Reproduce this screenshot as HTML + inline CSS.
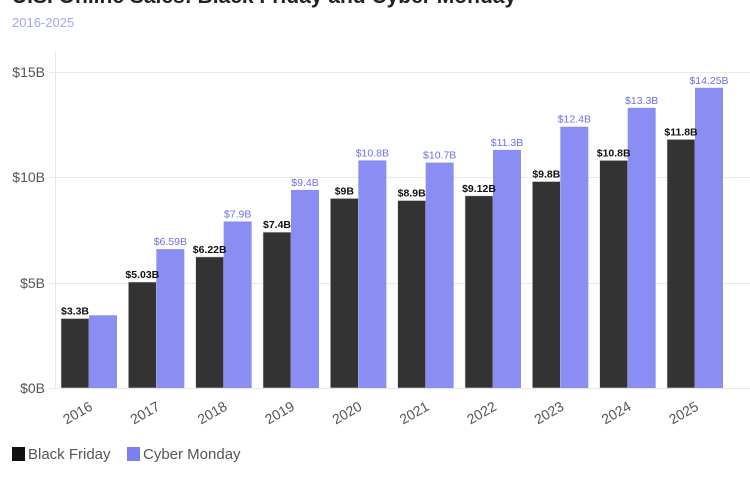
<!DOCTYPE html>
<html><head><style>body{margin:0;background:#fff}svg{display:block}</style></head><body>
<svg width="750" height="480" xmlns="http://www.w3.org/2000/svg" font-family="Liberation Sans, sans-serif">
<text x="12" y="3" font-size="21" font-weight="bold" fill="#222">U.S. Online Sales: Black Friday and Cyber Monday</text>
<text x="12" y="27" font-size="13" fill="#a3a6f2">2016-2025</text>
<g stroke="#e8e8e8" stroke-width="1">
<line x1="55" y1="72.5" x2="750" y2="72.5"/><line x1="55" y1="177.5" x2="750" y2="177.5"/><line x1="55" y1="283.5" x2="750" y2="283.5"/><line x1="49" y1="388.5" x2="750" y2="388.5"/>
<line x1="49" y1="72.5" x2="55" y2="72.5"/><line x1="49" y1="177.5" x2="55" y2="177.5"/><line x1="49" y1="283.5" x2="55" y2="283.5"/>
<line x1="55.5" y1="51" x2="55.5" y2="388"/>
</g>
<g font-size="14" fill="#555" text-anchor="end">
<text x="45" y="77">$15B</text><text x="45" y="182">$10B</text><text x="45" y="288">$5B</text><text x="45" y="393">$0B</text>
</g>
<g fill="#333" stroke="#ddd" stroke-width="0.6">
<rect x="61" y="318.5" width="28" height="69.5"/>
<rect x="128.33" y="282" width="28" height="106"/>
<rect x="195.67" y="256.9" width="28" height="131.1"/>
<rect x="263" y="232.1" width="28" height="155.9"/>
<rect x="330.33" y="198.4" width="28" height="189.6"/>
<rect x="397.67" y="200.5" width="28" height="187.5"/>
<rect x="465" y="195.8" width="28" height="192.2"/>
<rect x="532.33" y="181.5" width="28" height="206.5"/>
<rect x="599.67" y="160.4" width="28" height="227.6"/>
<rect x="667" y="139.4" width="28" height="248.6"/>
</g>
<g fill="#8a8ef2">
<rect x="89" y="315.3" width="28" height="72.7"/>
<rect x="156.33" y="249.1" width="28" height="138.9"/>
<rect x="223.67" y="221.5" width="28" height="166.5"/>
<rect x="291" y="189.9" width="28" height="198.1"/>
<rect x="358.33" y="160.4" width="28" height="227.6"/>
<rect x="425.67" y="162.6" width="28" height="225.4"/>
<rect x="493" y="149.9" width="28" height="238.1"/>
<rect x="560.33" y="126.7" width="28" height="261.3"/>
<rect x="627.67" y="107.8" width="28" height="280.2"/>
<rect x="695" y="87.8" width="28" height="300.2"/>
</g>
<g font-size="10.5" font-weight="bold" fill="#111" text-anchor="middle">
<text x="75" y="314.5">$3.3B</text>
<text x="142.33" y="278">$5.03B</text>
<text x="209.67" y="252.9">$6.22B</text>
<text x="277" y="228.1">$7.4B</text>
<text x="344.33" y="194.4">$9B</text>
<text x="411.67" y="196.5">$8.9B</text>
<text x="479" y="191.8">$9.12B</text>
<text x="546.33" y="177.5">$9.8B</text>
<text x="613.67" y="156.4">$10.8B</text>
<text x="681" y="135.4">$11.8B</text>
</g>
<g font-size="10.5" fill="#6b6fe6" text-anchor="middle">
<text x="170.33" y="245.1">$6.59B</text>
<text x="237.67" y="217.5">$7.9B</text>
<text x="305" y="185.9">$9.4B</text>
<text x="372.33" y="156.4">$10.8B</text>
<text x="439.67" y="158.6">$10.7B</text>
<text x="507" y="145.9">$11.3B</text>
<text x="574.33" y="122.7">$12.4B</text>
<text x="641.67" y="103.8">$13.3B</text>
<text x="709" y="83.8">$14.25B</text>
</g>
<g font-size="14" fill="#555" text-anchor="middle">
<text transform="translate(80,417) rotate(-30)">2016</text>
<text transform="translate(147.33,417) rotate(-30)">2017</text>
<text transform="translate(214.67,417) rotate(-30)">2018</text>
<text transform="translate(282,417) rotate(-30)">2019</text>
<text transform="translate(349.33,417) rotate(-30)">2020</text>
<text transform="translate(416.67,417) rotate(-30)">2021</text>
<text transform="translate(484,417) rotate(-30)">2022</text>
<text transform="translate(551.33,417) rotate(-30)">2023</text>
<text transform="translate(618.67,417) rotate(-30)">2024</text>
<text transform="translate(686,417) rotate(-30)">2025</text>
</g>
<g fill="#555">
<rect x="12" y="447" width="13" height="14" fill="#111"/><text x="28" y="459" font-size="15">Black Friday</text>
<rect x="127" y="447" width="13" height="14" fill="#7b7ff0"/><text x="143" y="459" font-size="15">Cyber Monday</text>
</g>
</svg>
</body></html>
